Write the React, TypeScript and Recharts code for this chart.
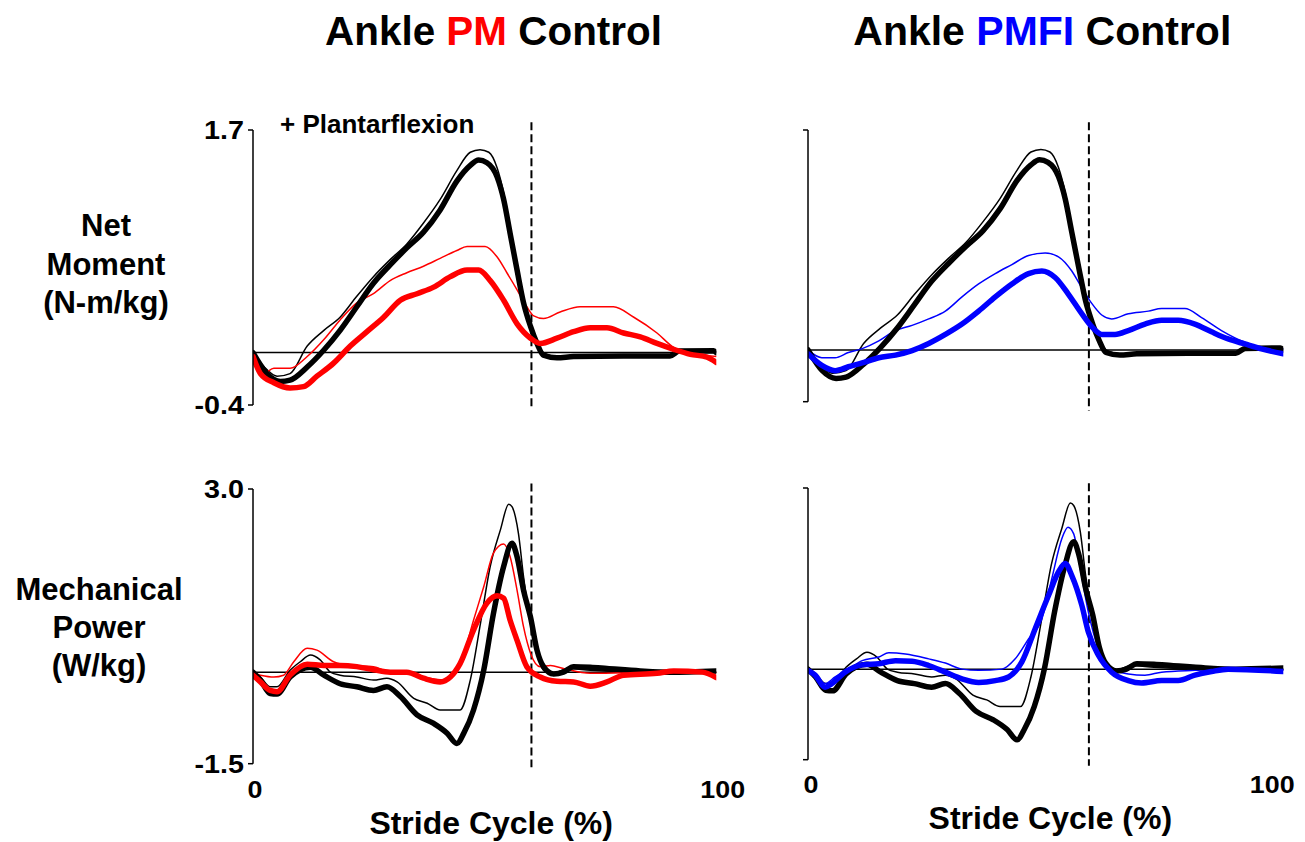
import React from 'react';
import { LineChart, Line, XAxis, YAxis, ReferenceLine } from 'recharts';

type Pt = [number, number];

// ---- ticks / markers ----
const strideTicks = [0, 100];
const momentTicks = [-0.4, 1.7];
const powerTicks = [-1.5, 3.0];
const toeOffPM = 60.1;
const toeOffPMFI = 59.1;

// ---- Net moment (N-m/kg) vs stride cycle (%) ----
const momentCtrlThick: Pt[] = [[0,0],[3,-0.16],[5.9,-0.22],[8,-0.21],[11.7,-0.11],[15.3,0.02],[18.8,0.17],[22.4,0.35],[26,0.53],[29.6,0.67],[33.2,0.8],[36.8,0.92],[40.4,1.09],[44,1.31],[46.9,1.43],[48.7,1.47],[50.5,1.45],[52.7,1.34],[54.1,1.17],[55.5,0.91],[57,0.63],[58.4,0.38],[59.9,0.2],[61.3,0.07],[62.7,-0.02],[65.6,-0.04],[69.2,-0.03],[80,-0.025],[90,-0.025],[92,0.012],[99.4,0.015],[100,0]];
const momentCtrlThin: Pt[] = [[0,0],[3,-0.13],[5.2,-0.18],[8,-0.16],[11.7,0.05],[15.3,0.17],[18.8,0.27],[22.4,0.43],[26,0.58],[29.6,0.71],[33.2,0.83],[36.8,0.99],[40.4,1.17],[44,1.39],[46.9,1.53],[49,1.55],[50.9,1.53],[52.7,1.41],[54.1,1.22],[55.5,0.94],[57.7,0.53],[59.1,0.27],[60.6,0.12],[62.7,0],[65.6,-0.03],[70,-0.02],[90,-0.02],[92,0.01],[100,0.01]];
const momentPMThick: Pt[] = [[0,-0.03],[1.6,-0.16],[4.5,-0.23],[8,-0.27],[10.9,-0.26],[13.8,-0.18],[17.4,-0.08],[21,0.05],[24.6,0.16],[28.2,0.27],[31.8,0.4],[35.4,0.45],[39,0.5],[42.6,0.58],[46.2,0.63],[48.7,0.63],[51.2,0.55],[54.1,0.4],[57,0.22],[59.9,0.11],[62,0.07],[65.6,0.11],[69.2,0.16],[72.8,0.19],[76.4,0.19],[80,0.15],[83.6,0.12],[87.2,0.07],[90.8,0.025],[94.4,-0.013],[98,-0.035],[100,-0.075]];
const momentPMThin: Pt[] = [[0,-0.02],[2.3,-0.16],[4.5,-0.12],[8,-0.12],[11.7,-0.03],[15.3,0.1],[18.8,0.25],[22.4,0.38],[26,0.45],[29.6,0.55],[33.2,0.61],[36.8,0.66],[40.4,0.72],[44,0.78],[46.2,0.81],[50.1,0.81],[52.7,0.73],[54.8,0.61],[57,0.48],[59.1,0.35],[60.6,0.28],[62.7,0.26],[66.3,0.31],[70.6,0.35],[77.8,0.35],[82.2,0.27],[87.2,0.15],[90.8,0.04],[94.4,0],[100,-0.03]];
const momentPMFIThick: Pt[] = [[0,-0.03],[2.9,-0.12],[5.7,-0.16],[8.5,-0.13],[11.4,-0.1],[14.9,-0.06],[18.4,-0.04],[21.9,-0.005],[25.4,0.05],[28.9,0.12],[32.4,0.2],[35.9,0.3],[39.4,0.41],[42.9,0.51],[46.4,0.59],[49.2,0.61],[52,0.56],[54.8,0.43],[57.6,0.28],[59.7,0.18],[61.8,0.12],[64.6,0.12],[67.4,0.15],[70.9,0.2],[74.4,0.23],[77.9,0.23],[81.4,0.2],[84.9,0.14],[88.4,0.085],[91.9,0.046],[95.4,0.008],[100,-0.03]];
const momentPMFIThin: Pt[] = [[0,0],[2.9,-0.06],[5.7,-0.06],[8.5,-0.02],[11.4,0.01],[14.9,0.07],[18.4,0.15],[21.9,0.19],[25.4,0.24],[28.9,0.3],[32.4,0.41],[35.9,0.51],[39.4,0.59],[42.9,0.66],[46.4,0.73],[49.9,0.75],[52.7,0.72],[55.5,0.61],[57.6,0.48],[59.7,0.36],[61.8,0.27],[63.9,0.24],[67.4,0.28],[71.6,0.3],[74.4,0.32],[79.3,0.32],[82.8,0.25],[87,0.15],[91.9,0.06],[95.4,0.02],[100,0.008]];

// ---- Mechanical power (W/kg) vs stride cycle (%) ----
const powerCtrlThick: Pt[] = [[0,0],[1.6,-0.13],[3.7,-0.35],[5.2,-0.36],[8,-0.08],[10.2,0.04],[12.4,0.08],[15.3,-0.05],[18.8,-0.19],[22.4,-0.24],[26,-0.3],[28.9,-0.24],[31.8,-0.4],[35.4,-0.7],[39,-0.84],[41.9,-1.0],[44,-1.17],[45.5,-1.0],[47.6,-0.62],[49.8,0.03],[51.9,0.96],[54.1,1.73],[55.9,2.11],[57,1.89],[58.4,1.34],[59.9,0.9],[61.3,0.36],[62.7,0.09],[64.9,-0.03],[67,0],[69.2,0.09],[72.8,0.08],[76.4,0.06],[83.6,0.02],[90,0],[100,0.02]];
const powerCtrlThin: Pt[] = [[0,0],[1.6,-0.08],[3.7,-0.24],[5.2,-0.24],[8,0.03],[10.2,0.17],[12.4,0.28],[14.5,0.2],[16.7,0],[18.8,-0.05],[22.4,-0.08],[26,-0.13],[28.9,-0.1],[31.1,-0.16],[34.7,-0.43],[37.6,-0.51],[40.4,-0.62],[44.7,-0.62],[46.9,-0.13],[49.1,0.8],[51.2,1.73],[53.4,2.33],[55.2,2.75],[55.9,2.71],[57.3,2.27],[58.4,1.56],[59.9,0.8],[61.3,0.31],[62.7,0.03],[64.9,-0.02],[67.8,0.06],[72.8,0.03],[83,0],[100,0]];
const powerPMThick: Pt[] = [[0,-0.05],[1.6,-0.16],[3.7,-0.3],[5.2,-0.32],[8,-0.05],[11.7,0.13],[15.3,0.11],[18.8,0.11],[22.4,0.09],[26,0.04],[29.6,0],[33.2,0],[36.8,-0.1],[40.4,-0.16],[42.6,-0.08],[44.7,0.14],[47.6,0.69],[50.5,1.13],[52.7,1.25],[54.1,1.21],[55.5,0.85],[57,0.52],[59.1,0.09],[62,-0.08],[65.6,-0.15],[69.2,-0.16],[72.8,-0.23],[76.4,-0.16],[80,-0.05],[87.2,-0.02],[90.8,0.02],[97,0],[100,-0.09]];
const powerPMThin: Pt[] = [[0,-0.02],[1.6,-0.05],[4.5,-0.08],[6.6,-0.05],[8.8,0.17],[11.7,0.39],[13.8,0.36],[17.4,0.17],[21,0.11],[26,0.09],[29.6,0],[33.2,0],[36.8,-0.08],[41.2,-0.13],[43.3,-0.02],[45.5,0.31],[47.6,0.85],[49.8,1.4],[51.9,1.95],[54.1,2.1],[55.5,1.89],[57,1.34],[58.4,0.74],[59.9,0.31],[62,0.09],[64.2,0.11],[67,0.06],[72.8,-0.02],[80,-0.01],[90.8,0.03],[100,-0.01]];
const powerPMFIThick: Pt[] = [[0,-0.02],[1.5,-0.1],[3.6,-0.3],[5,-0.24],[7.8,-0.05],[11.4,0.07],[14.9,0.09],[18.4,0.14],[21.9,0.13],[25.4,0.06],[28.9,-0.05],[32.4,-0.16],[35.9,-0.22],[39.4,-0.19],[42.2,-0.13],[45,0.12],[47.8,0.67],[50.6,1.22],[52.7,1.61],[54.1,1.75],[55.5,1.55],[57.6,1.06],[59,0.61],[61.1,0.23],[63.9,-0.05],[67.4,-0.19],[70.2,-0.23],[74.4,-0.19],[77.9,-0.19],[81.4,-0.1],[84.9,-0.04],[88.4,0],[100,-0.04]];
const powerPMFIThin: Pt[] = [[0,-0.02],[1.5,-0.1],[3.6,-0.24],[5.7,-0.13],[8.5,0],[11.4,0.14],[14.9,0.2],[17,0.27],[20.5,0.25],[25.4,0.17],[28.9,0.1],[32.4,0],[35.9,-0.02],[40.8,0],[43.6,0.17],[46.4,0.5],[49.2,0.83],[51.3,1.5],[53.4,2.16],[54.7,2.35],[55.9,2.24],[57.3,1.66],[59,0.94],[61.1,0.34],[63.9,0],[67.4,-0.08],[70.9,-0.1],[74.4,-0.05],[81.4,-0.02],[88.4,0],[100,-0.02]];

const FONT = '"Liberation Sans", Arial, Helvetica, sans-serif';
const RED = '#ff0000';
const BLUE = '#0000ff';
const BLACK = '#000000';

const toData = (pts: Pt[]) => pts.map(([x, y]) => ({ x, y }));

interface Series { pts: Pt[]; color: string; width: number; }

interface PanelProps {
  left: number; top: number; width: number; height: number;
  yDomain: [number, number]; yTicks: number[]; showYLabels: boolean;
  showX: boolean; xOffsets?: Record<number, number>; tickDy?: number; strideDx?: number; strideDy?: number;
  toeOff: number; dashTop: number; dashBottom: number;
  series: Series[];
}

const makeYTick = (show: boolean) => (props: any) => {
  const { x, y, payload } = props;
  if (!show) return <g />;
  return (
    <g transform={`translate(${x},${y}) scale(1.15,1)`}>
      <text x={0} y={0} dy={9} textAnchor="end" fontSize={25} fontWeight="bold" fontFamily={FONT} fill={BLACK}>
        {Number(payload.value).toFixed(1)}
      </text>
    </g>
  );
};

const makeXTick = (offsets: Record<number, number>, dy: number) => (props: any) => {
  const { x, y, payload } = props;
  const off = offsets[payload.value] || 0;
  return (
    <g transform={`translate(${x + off},${y + dy}) scale(1.12,1)`}>
      <text x={0} y={0} textAnchor="middle" fontSize={24} fontWeight="bold" fontFamily={FONT} fill={BLACK}>
        {payload.value}
      </text>
    </g>
  );
};

function Panel(p: PanelProps) {
  const YW = 70, MR = 40, MT = 14;
  const XH = p.showX ? 80 : 14;
  return (
    <div style={{ position: 'absolute', left: p.left - YW, top: p.top - MT }}>
      <LineChart
        width={YW + p.width + MR}
        height={MT + p.height + XH}
        margin={{ top: MT, right: MR, left: 0, bottom: p.showX ? 0 : XH }}
      >
        <XAxis
          type="number" dataKey="x" domain={[0, 100]} ticks={strideTicks} interval={0}
          hide={!p.showX} axisLine={false} tickLine={false} tickSize={0} tickMargin={0} height={XH}
          allowDataOverflow
          tick={makeXTick(p.xOffsets || {}, p.tickDy || 0)}
          label={(lp: any) => {
            const vb = lp.viewBox || { x: 0, y: 0, width: 0 };
            return (
              <text x={vb.x + vb.width / 2 + (p.strideDx || 0)} y={vb.y + (p.strideDy || 0)} textAnchor="middle"
                fontSize={32} fontWeight="bold" fontFamily={FONT} fill={BLACK}>
                Stride Cycle (%)
              </text>
            );
          }}
        />
        <YAxis
          type="number" domain={p.yDomain} ticks={p.yTicks} interval={0} width={YW}
          allowDataOverflow
          axisLine={{ stroke: BLACK, strokeWidth: 1.5 }}
          tickLine={{ stroke: BLACK, strokeWidth: 1.5 }}
          tickSize={5} tickMargin={4}
          tick={makeYTick(p.showYLabels)}
        />
        <ReferenceLine y={0} stroke={BLACK} strokeWidth={1.5} />
        <ReferenceLine
          segment={[{ x: p.toeOff, y: p.dashTop }, { x: p.toeOff, y: p.dashBottom }]}
          ifOverflow="visible" stroke={BLACK} strokeWidth={2} strokeDasharray="8 4"
        />
        {p.series.map((s, i) => (
          <Line key={i} data={toData(s.pts)} dataKey="y" type="monotone" stroke={s.color}
            strokeWidth={s.width} dot={false} activeDot={false} isAnimationActive={false}
            strokeLinejoin="round" strokeLinecap="round" />
        ))}
      </LineChart>
    </div>
  );
}

const THICK = 5.5;
const THIN = 1.5;

export default function App() {
  const txt = { fontFamily: FONT, fontWeight: 'bold' as const, fill: BLACK };
  return (
    <div style={{ position: 'absolute', left: 0, top: 0, width: 1305, height: 842, background: '#fff', overflow: 'hidden' }}>
      <Panel left={252.7} top={130} width={463.3} height={275} yDomain={[-0.4, 1.7]} yTicks={momentTicks}
        showYLabels showX={false} toeOff={toeOffPM} dashTop={1.76} dashBottom={-0.44}
        series={[
          { pts: momentCtrlThin, color: BLACK, width: THIN },
          { pts: momentPMThin, color: RED, width: THIN },
          { pts: momentCtrlThick, color: BLACK, width: THICK },
          { pts: momentPMThick, color: RED, width: THICK },
        ]} />
      <Panel left={807.7} top={130} width={475.3} height={271.7} yDomain={[-0.4, 1.7]} yTicks={momentTicks}
        showYLabels={false} showX={false} toeOff={toeOffPMFI} dashTop={1.76} dashBottom={-0.47}
        series={[
          { pts: momentCtrlThin, color: BLACK, width: THIN },
          { pts: momentPMFIThin, color: BLUE, width: THIN },
          { pts: momentCtrlThick, color: BLACK, width: THICK },
          { pts: momentPMFIThick, color: BLUE, width: THICK },
        ]} />
      <Panel left={252.7} top={489.3} width={463.3} height={274.7} yDomain={[-1.5, 3.0]} yTicks={powerTicks}
        showYLabels showX xOffsets={{ 0: 2, 100: 6.5 }} tickDy={34} strideDx={6.5} strideDy={70}
        toeOff={toeOffPM} dashTop={3.09} dashBottom={-1.56}
        series={[
          { pts: powerCtrlThin, color: BLACK, width: THIN },
          { pts: powerPMThin, color: RED, width: THIN },
          { pts: powerCtrlThick, color: BLACK, width: THICK },
          { pts: powerPMThick, color: RED, width: THICK },
        ]} />
      <Panel left={807.7} top={488.3} width={475.3} height={271.7} yDomain={[-1.5, 3.0]} yTicks={powerTicks}
        showYLabels={false} showX xOffsets={{ 0: 3, 100: -11 }} tickDy={33} strideDx={4.7} strideDy={69}
        toeOff={toeOffPMFI} dashTop={3.08} dashBottom={-1.6}
        series={[
          { pts: powerCtrlThin, color: BLACK, width: THIN },
          { pts: powerPMFIThin, color: BLUE, width: THIN },
          { pts: powerCtrlThick, color: BLACK, width: THICK },
          { pts: powerPMFIThick, color: BLUE, width: THICK },
        ]} />
      <svg width={1305} height={842} style={{ position: 'absolute', left: 0, top: 0, pointerEvents: 'none' }}>
        <text x={325} y={45} fontSize={40} textLength={337} lengthAdjust="spacingAndGlyphs" {...txt}>
          {'Ankle '}<tspan fill={RED}>PM</tspan>{' Control'}
        </text>
        <text x={853.3} y={45} fontSize={40} textLength={378} lengthAdjust="spacingAndGlyphs" {...txt}>
          {'Ankle '}<tspan fill={BLUE}>PMFI</tspan>{' Control'}
        </text>
        <text x={280} y={133} fontSize={26} {...txt}>+ Plantarflexion</text>
        <text textAnchor="middle" fontSize={31} {...txt}>
          <tspan x={106} y={236}>Net</tspan>
          <tspan x={106} y={274.5}>Moment</tspan>
          <tspan x={106} y={313}>(N-m/kg)</tspan>
        </text>
        <text textAnchor="middle" fontSize={31} {...txt}>
          <tspan x={99} y={600}>Mechanical</tspan>
          <tspan x={99} y={638}>Power</tspan>
          <tspan x={99} y={676}>(W/kg)</tspan>
        </text>
      </svg>
    </div>
  );
}
